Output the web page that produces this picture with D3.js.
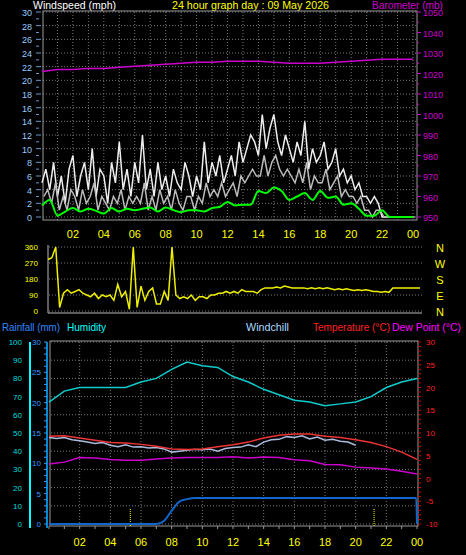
<!DOCTYPE html>
<html><head><meta charset="utf-8">
<script src="https://cdn.jsdelivr.net/npm/d3@7"></script>
<style>body{margin:0;background:#000}svg{display:block;font-family:"Liberation Sans",Arial,sans-serif}</style>
</head><body><svg id="c" width="466" height="555"></svg>
<script>
// 15-minute wind gust / speed (mph), 0..24h
const gust = [5,7,4,8,3,6,2,7, 9,3,6,8,4,10,3,7, 6,2,8,5,11,4,7,3, 8,5,12,4,7,3,8,4,
  6,3,7,5,4,8,6,3, 6,4,11,5,8,6,9,5, 7,9,6,11,8,10,12,11, 9,15,10,13,15,11,9,12,
  10,8,11,9,14,7,10,8, 9,11,7,8,10,6,7,5, 6,4,5,3,3,2,3,2, 0,0,0,0,0,0,0,0,0];
const speed = [3,4,2,5,1,3,1,4, 3,1,4,2,3,5,1,3, 2,1,3,2,4,1,3,2, 3,2,5,1,3,1,4,2,
  3,1,4,2,1,3,3,1, 3,2,5,3,4,3,5,3, 4,5,3,6,5,6,7,6, 6,9,6,8,9,7,6,7,
  6,5,7,5,8,4,6,5, 5,7,4,5,6,3,4,3, 3,2,3,1,1,0,1,1, 0,0,0,0,0,0,0,0,0];
// half-hourly average wind
const avgWind = [1.7,2.5,0.2,0.8,1.3,0.8,1.2,0.9,0.5,1.3,0.8,1.2,1.0,1.2,1.4,0.8,1.4,1.0,0.7,1.0,
  1.0,0.8,1.3,1.5,2.2,1.7,1.8,1.8,3.8,3.5,4.3,3.8,2.5,3.0,3.5,2.5,3.8,2.8,3.0,1.8,
  2.0,1.2,0.2,0.2,1.0,0,0,0,0];
// hourly barometer (mb)
const baro = [1021,1022,1022,1022.5,1022.5,1023,1023.5,1024,1024.5,1025,1025.5,1025.5,1026,1026,1026,1025.5,
  1025,1025,1025,1025.5,1026,1026.5,1027,1027,1027];
// 15-minute wind direction (deg)
const windDir = [290,300,360,20,100,120,100,110, 120,100,90,80,100,70,90,80, 90,60,150,80,110,10,360,20,
  140,60,110,130,40,40,110,60, 360,90,70,80,70,90,60,80, 80,70,90,90,100,100,110,100,
  110,100,120,110,110,110,100,120, 130,130,130,135,130,140,135,130, 130,130,130,125,130,125,130,125,
  130,125,120,125,120,125,120,115, 120,115,120,115,110,110,105,110, 105,130,130,130,130,130,130,130,130];
// hourly humidity (%), temperature and dew point (°C)
const humidity = [67,73,75,75,75,75,78,80,85,89,87,86,81,78,74,71,68,67,65,66,67,70,75,78,80];
const temperature = [9.3,9.4,8.9,8.4,7.9,7.8,7.5,7.1,6.5,6.4,6.5,7.0,7.4,8.0,8.9,9.5,9.8,9.8,9.3,9.0,8.5,7.9,7.0,5.8,4.2];
const dewPoint = [3.2,3.6,4.6,4.5,4.2,4.0,4.0,4.3,4.5,4.6,4.6,4.6,4.8,4.5,4.7,4.6,4.1,3.9,3.1,3.0,2.5,2.3,2.1,1.6,1.0];
// half-hourly windchill 0..20h
const windchill = [9.0,8.8,9.0,8.5,8.3,8.0,7.7,7.9,7.3,7.0,7.4,6.9,7.0,6.7,6.8,6.5,5.8,6.0,6.2,6.4,
  6.3,6.5,6.0,6.6,6.8,6.9,7.4,7.0,8.0,8.5,8.6,9.2,9.0,9.4,8.7,9.1,8.4,8.6,8.2,8.0,7.3];
// rainfall (mm)
const rainTimes = [0,7,7.5,8,8.5,9,9.5,23.95,24];
const rainVals = [0,0,0.5,2.2,3.7,4.1,4.3,4.3,0];
const markers = [5.3,21.2];
const hourLabels = ["02","04","06","08","10","12","14","16","18","20","22","00"];

const svg = d3.select("#c");
const grid = "#777";
function txt(x,y,s,col,anchor,size,len){
  const t = svg.append("text").attr("x",x).attr("y",y).attr("fill",col).attr("font-size",size||11)
    .attr("text-anchor",anchor||"start").text(s);
  if (len) t.attr("textLength",len).attr("lengthAdjust","spacingAndGlyphs");
}
function hgrid(g,ys,x0,x1){ys.forEach(y=>g.append("line").attr("x1",x0).attr("x2",x1).attr("y1",y).attr("y2",y)
  .attr("stroke",grid).attr("stroke-dasharray","1,2"));}
function vgrid(g,xs,y0,y1){xs.forEach(x=>g.append("line").attr("x1",x).attr("x2",x).attr("y1",y0).attr("y2",y1)
  .attr("stroke",grid).attr("stroke-dasharray","1,2"));}

// ---- top panel
const xT = d3.scaleLinear().domain([0,24]).range([42,413]);
const yW = d3.scaleLinear().domain([0,30]).range([217,12]);
const yB = d3.scaleLinear().domain([950,1050]).range([217,12]);
txt(33,9,"Windspeed (mph)","#fff","start",11,83);
txt(172,9,"24 hour graph day : 09 May 2026","#ff0","start",11,157);
txt(372,9,"Barometer (mb)","#c0c","start",11,71);
const gT = svg.append("g");
hgrid(gT,d3.range(0,31,2).map(yW),43,417);
vgrid(gT,d3.range(1,25).map(xT),12,220);
gT.append("rect").attr("x",43).attr("y",11).attr("width",374).attr("height",209).attr("fill","none").attr("stroke","#999");
d3.range(0,31,2).forEach(v=>txt(32,yW(v)+4,v,"#9cf","end",9));
d3.range(0,31,1).forEach(v=>gT.append("line").attr("x1",36).attr("x2",v%2?39:41).attr("y1",yW(v)).attr("y2",yW(v)).attr("stroke","#69c"));
d3.range(950,1051,10).forEach(v=>txt(423,yB(v)+4,v,"#c0c","start",9));
d3.range(950,1051,5).forEach(v=>gT.append("line").attr("x1",417).attr("x2",v%10?419:421).attr("y1",yB(v)).attr("y2",yB(v)).attr("stroke","#c0c"));
hourLabels.forEach((s,i)=>txt(xT(2*(i+1)),238,s,"#ff0","middle",11));
const q = i=>i*0.25;
gT.append("path").attr("d",d3.line().x((d,i)=>xT(q(i))).y(d=>yW(d))(gust))
  .attr("fill","none").attr("stroke","#eee").attr("stroke-width",1.5);
gT.append("path").attr("d",d3.line().x((d,i)=>xT(q(i)+0.12)).y(d=>yW(d))(speed))
  .attr("fill","none").attr("stroke","#bbb").attr("stroke-width",1.5);
gT.append("path").attr("d",d3.line().x((d,i)=>xT(i*0.5)).y(d=>yW(d)).curve(d3.curveMonotoneX)(avgWind))
  .attr("fill","none").attr("stroke","#0f0").attr("stroke-width",2);
gT.append("path").attr("d",d3.line().x((d,i)=>xT(i)).y(d=>yB(d))(baro))
  .attr("fill","none").attr("stroke","#c0c").attr("stroke-width",1.5);

// ---- direction panel
const xM = d3.scaleLinear().domain([0,24]).range([48,420]);
const yD = d3.scaleLinear().domain([0,360]).range([311,247]);
const gM = svg.append("g");
hgrid(gM,[0,90,180,270,360].map(yD),49,422);
gM.append("line").attr("x1",48).attr("x2",48).attr("y1",245).attr("y2",313).attr("stroke","#bbb");
gM.append("line").attr("x1",48).attr("x2",422).attr("y1",313).attr("y2",313).attr("stroke","#bbb");
[0,90,180,270,360].forEach(v=>txt(38,yD(v)+3,v,"#ff0","end",8));
gM.append("path").attr("d",d3.line().x((d,i)=>xM(q(i))).y(d=>yD(d))(windDir))
  .attr("fill","none").attr("stroke","#ee0").attr("stroke-width",1.5);
["N","W","S","E","N"].forEach((s,i)=>txt(440,[252,268,284,300,316][i],s,"#ff0","middle",11));

// ---- bottom panel
const xL = d3.scaleLinear().domain([0,24]).range([49,417]);
const yH = d3.scaleLinear().domain([0,100]).range([524,342]);
const yR = d3.scaleLinear().domain([0,30]).range([524,342]);
const yC = d3.scaleLinear().domain([-10,30]).range([524,342]);
txt(2,331,"Rainfall (mm)","#38f","start",11,58);
txt(67,331,"Humidity","#0ff","start",11,39);
txt(246,331,"Windchill","#adf","start",11,43);
txt(313,331,"Temperature (°C)","#f22","start",11,77);
txt(392,331,"Dew Point (°C)","#f0f","start",11,69);
const gL = svg.append("g");
hgrid(gL,d3.range(0,101,10).map(yH),51,418);
vgrid(gL,d3.range(2,24,2).map(xL),342,524);
gL.append("rect").attr("x",50).attr("y",341).attr("width",368).attr("height",185).attr("fill","none").attr("stroke","#999");
gL.append("line").attr("x1",30).attr("x2",30).attr("y1",342).attr("y2",528).attr("stroke","#0ff").attr("stroke-width",2);
gL.append("line").attr("x1",47).attr("x2",47).attr("y1",342).attr("y2",528).attr("stroke","#08c").attr("stroke-width",2);
d3.range(0,101,10).forEach(v=>txt(22,yH(v)+3,v,"#0dd","end",8));
d3.range(0,31,5).forEach(v=>txt(41,yR(v)+3,v,"#39f","end",8));
d3.range(0,31,1).forEach(v=>gL.append("line").attr("x1",44).attr("x2",47).attr("y1",yR(v)).attr("y2",yR(v)).attr("stroke","#39f"));
d3.range(-10,31,5).forEach(v=>txt(426,yC(v)+3,v,"#f22","start",8));
d3.range(-10,31,1).forEach(v=>gL.append("line").attr("x1",418).attr("x2",421).attr("y1",yC(v)).attr("y2",yC(v)).attr("stroke","#c00"));
hourLabels.forEach((s,i)=>txt(xL(2*(i+1)),546,s,"#ff0","middle",11));
d3.range(0,25).forEach(h=>gL.append("line").attr("x1",xL(h)).attr("x2",xL(h)).attr("y1",526).attr("y2",529).attr("stroke","#999"));
markers.forEach(h=>gL.append("line").attr("x1",xL(h)).attr("x2",xL(h)).attr("y1",509).attr("y2",526)
  .attr("stroke","#ff0").attr("stroke-dasharray","1,1"));
gL.append("path").attr("d",d3.line().x((d,i)=>xL(i)).y(d=>yH(d))(humidity))
  .attr("fill","none").attr("stroke","#1cc").attr("stroke-width",1.5);
gL.append("path").attr("d",d3.line().x((d,i)=>xL(i*0.5)).y(d=>yC(d))(windchill))
  .attr("fill","none").attr("stroke","#abd").attr("stroke-width",1.5);
gL.append("path").attr("d",d3.line().x((d,i)=>xL(i)).y(d=>yC(d))(temperature))
  .attr("fill","none").attr("stroke","#e33").attr("stroke-width",1.5);
gL.append("path").attr("d",d3.line().x((d,i)=>xL(i)).y(d=>yC(d))(dewPoint))
  .attr("fill","none").attr("stroke","#c0c").attr("stroke-width",1.5);
gL.append("path").attr("d",d3.line().x((d,i)=>xL(rainTimes[i])).y(d=>yR(d)).curve(d3.curveMonotoneX)(rainVals))
  .attr("fill","none").attr("stroke","#16c").attr("stroke-width",2);
</script></body></html>
